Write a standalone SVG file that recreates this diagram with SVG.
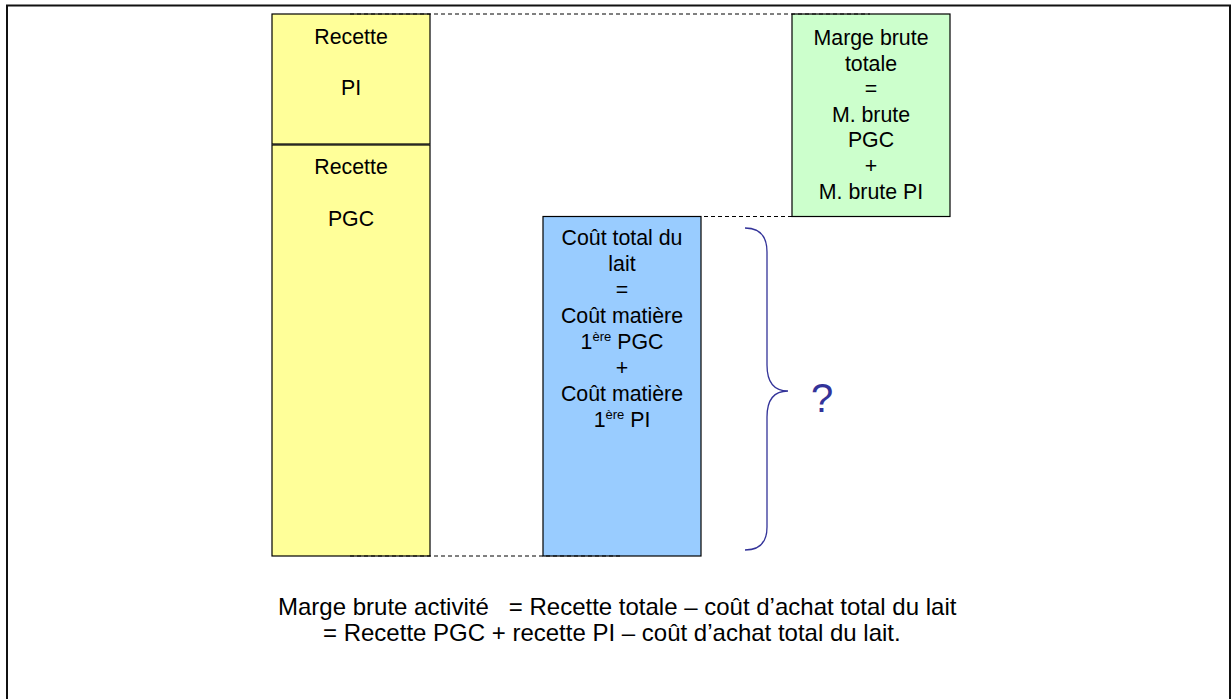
<svg xmlns="http://www.w3.org/2000/svg" width="1231" height="699" viewBox="0 0 1231 699">
<style>
  .box { stroke: #000; stroke-width: 1.2; }
  .y { fill: #FFFF99; }
  .g { fill: #CCFFCC; }
  .b { fill: #99CCFF; }
  .t { font-family: "Liberation Sans", Arial, sans-serif; font-size: 21.33px; fill: #000; text-anchor: middle; }
  .sup { font-size: 13px; }
  .dash { stroke: #000; stroke-width: 1; stroke-dasharray: 4 3; fill: none; }
  .foot { font-family: "Liberation Sans", Arial, sans-serif; font-size: 24px; fill: #000; white-space: pre; }
</style>
<rect x="0" y="0" width="1231" height="699" fill="#fff"/>
<g id="frame" fill="none" stroke="#111" stroke-width="2">
  <path d="M7 699 V5.5 H1230 V699"/>
</g>
<g id="recette-pi">
  <rect class="box y" x="272" y="14" width="158" height="130"/>
  <text class="t" x="351" y="43.5">Recette</text>
  <text class="t" x="351" y="95">PI</text>
</g>
<g id="recette-pgc">
  <rect class="box y" x="272" y="145" width="158" height="411"/>
  <text class="t" x="351" y="173.5">Recette</text>
  <text class="t" x="351" y="225.5">PGC</text>
</g>
<g id="marge-brute">
  <rect class="box g" x="792" y="14" width="158" height="202.5"/>
  <text class="t" x="871" y="45">Marge brute</text>
  <text class="t" x="871" y="70.6">totale</text>
  <text class="t" x="871" y="96.2">=</text>
  <text class="t" x="871" y="121.8">M. brute</text>
  <text class="t" x="871" y="147.4">PGC</text>
  <text class="t" x="871" y="173">+</text>
  <text class="t" x="871" y="198.6">M. brute PI</text>
</g>
<g id="cout-lait">
  <rect class="box b" x="543" y="216.5" width="158" height="339.5"/>
  <text class="t" x="622" y="245">Coût total du</text>
  <text class="t" x="622" y="271">lait</text>
  <text class="t" x="622" y="297">=</text>
  <text class="t" x="622" y="323">Coût matière</text>
  <text class="t" x="622" y="349">1<tspan class="sup" dy="-8">ère</tspan><tspan dy="8"> PGC</tspan></text>
  <text class="t" x="622" y="375">+</text>
  <text class="t" x="622" y="401">Coût matière</text>
  <text class="t" x="622" y="427">1<tspan class="sup" dy="-8">ère</tspan><tspan dy="8"> PI</tspan></text>
</g>
<g id="connectors">
  <line class="dash" x1="350" y1="14" x2="870" y2="14"/>
  <line class="dash" x1="620" y1="216.5" x2="870" y2="216.5"/>
  <line class="dash" x1="350" y1="556" x2="622" y2="556"/>
</g>
<g id="brace">
  <path d="M745 228 C760 228 767 236 767 252 V365 C767 382 774 391 788 391 C774 391 767 400 767 417 V527 C767 542 760 550 745 550" fill="none" stroke="#333399" stroke-width="1.3"/>
  <text x="811" y="412" font-family="Liberation Sans, Arial, sans-serif" font-size="40" fill="#333399">?</text>
</g>
<g id="formula">
  <text class="foot" x="278" y="615">Marge brute activité   = Recette totale – coût d’achat total du lait</text>
  <text class="foot" x="323" y="641">= Recette PGC + recette PI – coût d’achat total du lait.</text>
</g>
</svg>
